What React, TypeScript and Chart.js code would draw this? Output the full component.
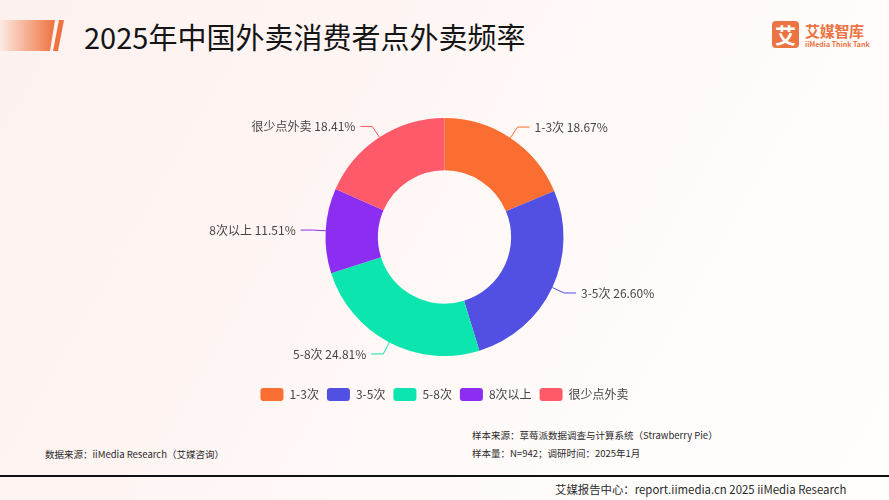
import React, { useEffect, useRef } from "react";
import { Chart, registerables } from "chart.js";

Chart.register(...registerables);

const title = "2025年中国外卖消费者点外卖频率";
const categories = ["1-3次", "3-5次", "5-8次", "8次以上", "很少点外卖"];
const shares = [18.67, 26.6, 24.81, 11.51, 18.41];
const colors = ["#FB6E31", "#5150E2", "#0DE5AE", "#8B2EF1", "#FE5A6A"];
const sourceNote = "数据来源：iiMedia Research（艾媒咨询）";
const sampleSource = "样本来源：草莓派数据调查与计算系统（Strawberry Pie）";
const sampleSize = "样本量：N=942；调研时间：2025年1月";
const footer = "艾媒报告中心：report.iimedia.cn 2025 iiMedia Research";

const FONT = "'Noto Sans CJK SC', 'Noto Sans', sans-serif";

const labelPlugin = {
  id: "outerLabels",
  afterDatasetsDraw(chart: any) {
    const ctx = chart.ctx;
    const meta = chart.getDatasetMeta(0);
    const data = chart.data.datasets[0].data;
    ctx.save();
    ctx.font = `12px ${FONT}`;
    ctx.textBaseline = "middle";
    meta.data.forEach((arc: any, i: number) => {
      const p = arc.getProps(["x", "y", "startAngle", "endAngle", "outerRadius"], true);
      const mid = (p.startAngle + p.endAngle) / 2;
      const c = Math.cos(mid);
      const s = Math.sin(mid);
      const x0 = p.x + p.outerRadius * c;
      const y0 = p.y + p.outerRadius * s;
      const x1 = p.x + (p.outerRadius + 13) * c;
      const y1 = p.y + (p.outerRadius + 13) * s;
      const dir = c >= 0 ? 1 : -1;
      const x2 = x1 + dir * 12;
      ctx.strokeStyle = colors[i];
      ctx.lineWidth = 1;
      ctx.beginPath();
      ctx.moveTo(x0, y0);
      ctx.lineTo(x1, y1);
      ctx.lineTo(x2, y1);
      ctx.stroke();
      ctx.fillStyle = "#464646";
      ctx.textAlign = dir > 0 ? "left" : "right";
      ctx.fillText(`${chart.data.labels[i]} ${Number(data[i]).toFixed(2)}%`, x2 + dir * 5, y1);
    });
    ctx.restore();
  },
};

export default function App() {
  const canvasRef = useRef<HTMLCanvasElement | null>(null);

  useEffect(() => {
    document.body.style.margin = "0";
    const chart = new Chart(canvasRef.current as HTMLCanvasElement, {
      type: "doughnut",
      data: {
        labels: categories,
        datasets: [
          {
            data: shares,
            backgroundColor: colors,
            borderWidth: 0,
          },
        ],
      },
      options: {
        animation: false,
        responsive: false,
        cutout: "56%",
        layout: { padding: { top: 18, bottom: 0 } },
        plugins: {
          tooltip: { enabled: false },
          legend: {
            position: "bottom",
            title: {
              display: true,
              text: " ",
              font: { size: 1, lineHeight: 1 },
              padding: { top: 23, bottom: 0 },
            },
            labels: {
              boxWidth: 23,
              boxHeight: 13,
              useBorderRadius: true,
              borderRadius: 3,
              color: "#444",
              font: { family: FONT, size: 12 },
              padding: 8,
            },
          },
        },
      },
      plugins: [labelPlugin],
    });
    return () => chart.destroy();
  }, []);

  const txt: React.CSSProperties = {
    position: "absolute",
    fontFamily: FONT,
    whiteSpace: "nowrap",
    color: "#2a2a2a",
  };

  return (
    <div
      style={{
        position: "fixed",
        left: 0,
        top: 0,
        width: 889,
        height: 500,
        overflow: "hidden",
        background: "linear-gradient(120deg, #FDF1EF 0%, #FEF6F4 40%, #FFFCFB 75%, #FFFEFD 100%)",
      }}
    >
      <svg width={70} height={60} style={{ position: "absolute", left: 0, top: 0 }}>
        <defs>
          <linearGradient id="acc" x1="0" x2="1" y1="0" y2="0">
            <stop offset="0" stopColor="#FDEAE2" />
            <stop offset="1" stopColor="#EE7240" />
          </linearGradient>
        </defs>
        <polygon points="0,20 55,20 50,51 0,51" fill="url(#acc)" />
        <polygon points="59,20 64,20 58,51 53,51" fill="#EE7240" />
      </svg>
      <div style={{ ...txt, left: 84, top: 17, fontSize: 29, lineHeight: "38px", color: "#151515" }}>{title}</div>

      <div
        style={{
          position: "absolute",
          left: 772,
          top: 21,
          width: 27,
          height: 27,
          borderRadius: 4,
          background: "#EC7342",
          color: "#fff",
          fontFamily: FONT,
          fontWeight: 700,
          fontSize: 21,
          lineHeight: "27px",
          textAlign: "center",
        }}
      >
        艾
      </div>
      <div style={{ ...txt, left: 805, top: 20, fontSize: 15, fontWeight: 700, color: "#EC7342", lineHeight: "22px", letterSpacing: -0.3 }}>
        艾媒智库
      </div>
      <div style={{ ...txt, left: 805, top: 40, fontSize: 7, fontWeight: 700, color: "#EC7342", lineHeight: "9px" }}>
        iiMedia Think Tank
      </div>

      <canvas ref={canvasRef} width={889} height={311} style={{ position: "absolute", left: 0, top: 100 }} />

      <div style={{ ...txt, left: 45, top: 447, fontSize: 9.5, lineHeight: "14px" }}>{sourceNote}</div>
      <div style={{ ...txt, left: 472, top: 428, fontSize: 9.5, lineHeight: "14px" }}>{sampleSource}</div>
      <div style={{ ...txt, left: 472, top: 446, fontSize: 9.5, lineHeight: "14px" }}>{sampleSize}</div>
      <div style={{ position: "absolute", left: 0, top: 475, width: 889, height: 2, background: "#111" }} />
      <div style={{ ...txt, left: 555, top: 481, fontSize: 11.4, lineHeight: "16px" }}>{footer}</div>
    </div>
  );
}
